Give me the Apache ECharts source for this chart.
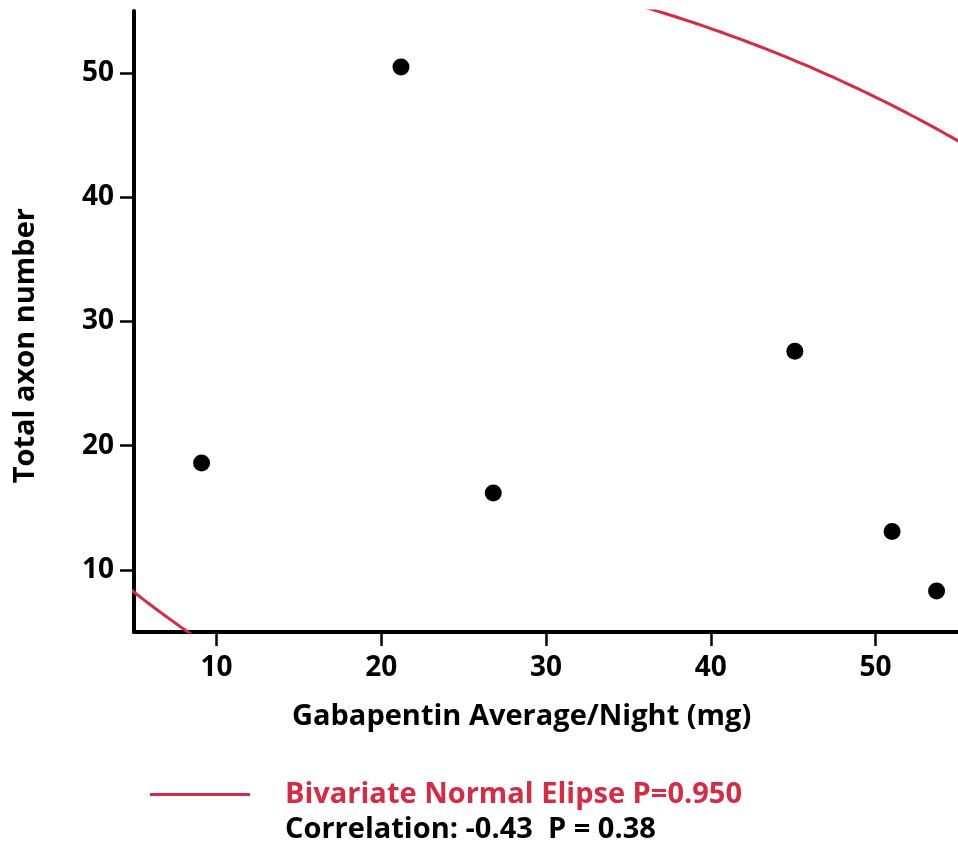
<!DOCTYPE html>
<html>
<head>
<meta charset="utf-8">
<script src="https://cdn.jsdelivr.net/npm/echarts@6/dist/echarts.min.js"></script>
<style>html,body{margin:0;padding:0;background:#fff}#c{width:958px;height:852px}</style>
</head>
<body>
<div id="c"></div>
<script>
// Data
var gabapentin = [9.1, 21.2, 26.8, 45.1, 51.0, 53.7];
var axonNumber = [18.6, 50.5, 16.2, 27.6, 13.1, 8.3];
var xTicks = [10, 20, 30, 40, 50];
var yTicks = [10, 20, 30, 40, 50];
var ellipseLabel = 'Bivariate Normal Elipse P=0.950';
var statsLabel = 'Correlation: -0.43  P = 0.38';
var xTitle = 'Gabapentin Average/Night (mg)';
var yTitle = 'Total axon number';
var ellipseP = 0.95;

var RED = '#d52b46';
var FONT = '"Open Sans", "Noto Sans", sans-serif';

// Bivariate normal density ellipse derived from the data (sample covariance)
function ellipse(xs, ys, p) {
  var n = xs.length, mx = 0, my = 0;
  for (var i = 0; i < n; i++) { mx += xs[i]; my += ys[i]; }
  mx /= n; my /= n;
  var sxx = 0, syy = 0, sxy = 0;
  for (i = 0; i < n; i++) {
    var dx = xs[i] - mx, dy = ys[i] - my;
    sxx += dx * dx; syy += dy * dy; sxy += dx * dy;
  }
  sxx /= (n - 1); syy /= (n - 1); sxy /= (n - 1);
  var c = Math.sqrt(-2 * Math.log(1 - p)); // sqrt of chi-square(2 df) quantile
  var l11 = Math.sqrt(sxx), l21 = sxy / l11, l22 = Math.sqrt(syy - l21 * l21);
  var pts = [];
  for (var k = 0; k <= 720; k++) {
    var t = k / 720 * 2 * Math.PI;
    var u = c * Math.cos(t), v = c * Math.sin(t);
    pts.push([mx + l11 * u, my + l21 * u + l22 * v]);
  }
  return pts;
}

var points = gabapentin.map(function (x, i) { return [x, axonNumber[i]]; });

var chart = echarts.init(document.getElementById('c'), null, {renderer: 'canvas'});
var axisCommon = {
  min: 5, max: 55,
  splitLine: {show: false},
  axisLine: {show: true, onZero: false, lineStyle: {color: '#000', width: 4}},
  axisTick: {show: true, length: 14, lineStyle: {color: '#000', width: 2.5}},
  axisLabel: {color: '#000', fontFamily: FONT, fontWeight: 'bold', fontSize: 28}
};
chart.setOption({
  animation: false,
  grid: {left: 134, right: 0, top: 11, bottom: 220, containLabel: false},
  xAxis: echarts.util.merge({
    type: 'value',
    axisTick: {customValues: xTicks},
    axisLabel: {customValues: xTicks, margin: 22}
  }, axisCommon),
  yAxis: echarts.util.merge({
    type: 'value',
    axisTick: {customValues: yTicks},
    axisLabel: {customValues: yTicks, margin: 20}
  }, axisCommon),
  legend: {
    show: true,
    left: 150, top: 780, padding: 0,
    itemWidth: 100, itemHeight: 3, itemGap: 10,
    icon: 'rect',
    data: [{name: ellipseLabel}],
    textStyle: {color: RED, fontFamily: FONT, fontWeight: 'bold', fontSize: 29, padding: [0, 0, 0, 30]}
  },
  graphic: [
    {type: 'text', left: 285, top: 815, style: {text: statsLabel, fill: '#000', font: 'bold 29px ' + FONT}},
    {type: 'text', left: 292, top: 702, style: {text: xTitle, fill: '#000', font: 'bold 29px ' + FONT}},
    {type: 'text', left: 11, top: 208, rotation: Math.PI / 2,
      style: {text: yTitle, fill: '#000', font: 'bold 29px ' + FONT}}
  ],
  series: [
    {
      name: ellipseLabel, type: 'line', data: ellipse(gabapentin, axonNumber, ellipseP),
      showSymbol: false, symbol: 'none', clip: true, smooth: false,
      lineStyle: {color: RED, width: 3}, itemStyle: {color: RED}
    },
    {
      name: 'points', type: 'scatter', data: points, symbolSize: 17,
      itemStyle: {color: '#000', opacity: 1}
    }
  ]
});
</script>
</body>
</html>
